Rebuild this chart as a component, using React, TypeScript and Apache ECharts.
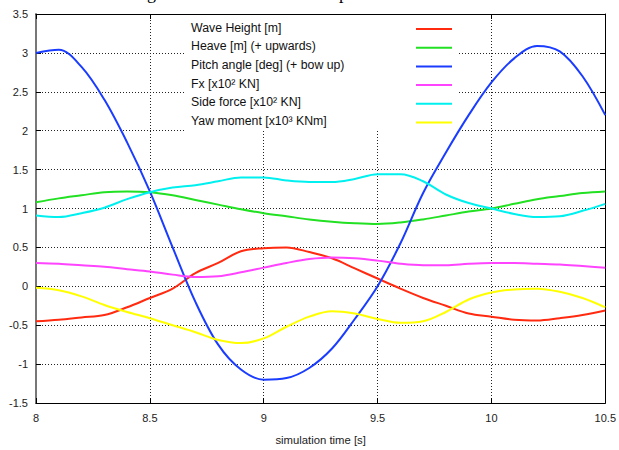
import React, { useEffect, useRef } from "react";
import * as echarts from "echarts";

const times = [8.0, 8.1, 8.2, 8.3, 8.4, 8.5, 8.6, 8.7, 8.8, 8.9, 9.0, 9.1, 9.2, 9.3, 9.4, 9.5, 9.6, 9.7, 9.8, 9.9, 10.0, 10.1, 10.2, 10.3, 10.4, 10.5];

const waveHeight = [-0.45, -0.43, -0.4, -0.37, -0.27, -0.15, -0.03, 0.17, 0.3, 0.45, 0.49, 0.5, 0.44, 0.36, 0.23, 0.1, -0.03, -0.15, -0.25, -0.35, -0.39, -0.43, -0.44, -0.41, -0.37, -0.31];
const heave = [1.08, 1.13, 1.17, 1.21, 1.22, 1.21, 1.17, 1.11, 1.05, 0.99, 0.94, 0.9, 0.86, 0.83, 0.81, 0.8, 0.82, 0.86, 0.91, 0.96, 1.0, 1.06, 1.12, 1.16, 1.2, 1.22];
const pitch = [3.0, 3.04, 2.82, 2.4, 1.85, 1.22, 0.5, -0.2, -0.75, -1.07, -1.2, -1.18, -1.05, -0.8, -0.42, 0.0, 0.55, 1.2, 1.72, 2.2, 2.62, 2.93, 3.09, 3.02, 2.7, 2.2];
const fx = [0.3, 0.29, 0.27, 0.25, 0.22, 0.19, 0.15, 0.12, 0.13, 0.18, 0.24, 0.3, 0.35, 0.37, 0.36, 0.33, 0.29, 0.27, 0.27, 0.29, 0.3, 0.3, 0.29, 0.28, 0.26, 0.24];
const sideForce = [0.91, 0.89, 0.94, 1.01, 1.12, 1.21, 1.27, 1.3, 1.35, 1.4, 1.4, 1.36, 1.34, 1.34, 1.38, 1.44, 1.44, 1.35, 1.18, 1.07, 1.0, 0.93, 0.89, 0.9, 0.97, 1.06];
const yawMoment = [-0.02, -0.05, -0.13, -0.24, -0.33, -0.41, -0.5, -0.59, -0.69, -0.73, -0.67, -0.52, -0.39, -0.32, -0.35, -0.42, -0.47, -0.45, -0.33, -0.17, -0.08, -0.04, -0.03, -0.07, -0.15, -0.27];

const seriesNames = [
  "Wave Height [m]",
  "Heave [m] (+ upwards)",
  "Pitch angle [deg] (+ bow up)",
  "Fx [x10² KN]",
  "Side force [x10² KN]",
  "Yaw moment [x10³ KNm]",
];
const seriesData = [waveHeight, heave, pitch, fx, sideForce, yawMoment];
const seriesColors = ["#ff2a10", "#22e022", "#1a3cff", "#ff44ff", "#00f0f0", "#ffff00"];

const titleText = "Heading sea motions at 10 knots: pitch";
const xAxisName = "simulation time [s]";

export default function App() {
  const ref = useRef<HTMLDivElement>(null);
  useEffect(() => {
    if (!ref.current) return;
    const chart = echarts.init(ref.current, undefined, { renderer: "svg" });
    const font = "Liberation Sans, Arial, sans-serif";
    const legendGraphics: any[] = [
      {
        type: "rect",
        shape: { x: 185, y: 15, width: 273, height: 116 },
        style: { fill: "#ffffff" },
        z: 1,
      },
    ];
    seriesNames.forEach((name, i) => {
      const y = 29 + i * 18.7;
      legendGraphics.push({
        type: "text",
        left: 191,
        top: y - 7.5,
        style: { text: name, fill: "#111", font: `12.3px ${font}` },
        z: 10,
      });
      legendGraphics.push({
        type: "line",
        shape: { x1: 416, y1: y, x2: 452, y2: y },
        style: { stroke: seriesColors[i], lineWidth: 2 },
        z: 10,
      });
    });
    chart.setOption({
      animation: false,
      backgroundColor: "#ffffff",
      grid: { left: 36, right: 13, top: 14, bottom: 39, containLabel: false },
      xAxis: [
        {
          type: "value",
          min: 8,
          max: 10.5,
          interval: 0.5,
          name: xAxisName,
          nameLocation: "middle",
          nameGap: 31,
          nameTextStyle: { fontFamily: font, fontSize: 11.3, color: "#222" },
          axisLine: { show: true, onZero: false, lineStyle: { color: "#000", width: 1 } },
          axisTick: { show: true, inside: true, length: 5, lineStyle: { color: "#000" } },
          axisLabel: { fontFamily: font, fontSize: 11, color: "#222", margin: 9 },
          splitLine: { show: true, lineStyle: { color: "#222", type: [1, 2], width: 1 } },
        },
        {
          type: "value",
          position: "top",
          min: 8,
          max: 10.5,
          interval: 0.5,
          axisLine: { show: true, onZero: false, lineStyle: { color: "#000", width: 1 } },
          axisTick: { show: true, inside: true, length: 5, lineStyle: { color: "#000" } },
          axisLabel: { show: false },
          splitLine: { show: false },
        },
      ],
      yAxis: [
        {
          type: "value",
          min: -1.5,
          max: 3.5,
          interval: 0.5,
          axisLine: { show: true, onZero: false, lineStyle: { color: "#777", width: 2 } },
          axisTick: { show: true, inside: true, length: 5, lineStyle: { color: "#000" } },
          axisLabel: { fontFamily: font, fontSize: 11, color: "#222", margin: 8 },
          splitLine: { show: true, lineStyle: { color: "#222", type: [1, 2], width: 1 } },
        },
        {
          type: "value",
          position: "right",
          min: -1.5,
          max: 3.5,
          interval: 0.5,
          axisLine: { show: true, onZero: false, lineStyle: { color: "#000", width: 1 } },
          axisTick: { show: true, inside: true, length: 5, lineStyle: { color: "#000" } },
          axisLabel: { show: false },
          splitLine: { show: false },
        },
      ],
      graphic: [
        {
          type: "text",
          left: 95,
          top: -16,
          style: { text: titleText, fill: "#000", font: "18px Liberation Serif, serif" },
        },
        ...legendGraphics,
      ],
      series: seriesNames.map((name, i) => ({
        name,
        type: "line",
        xAxisIndex: 0,
        yAxisIndex: 0,
        data: times.map((t, j) => [t, seriesData[i][j]]),
        showSymbol: false,
        smooth: 0.35,
        lineStyle: { color: seriesColors[i], width: 2 },
        itemStyle: { color: seriesColors[i] },
        z: 2 + i,
      })),
    });
    return () => chart.dispose();
  }, []);
  return (
    <div
      ref={ref}
      style={{ position: "fixed", left: 0, top: 0, width: 619, height: 450 }}
    />
  );
}
